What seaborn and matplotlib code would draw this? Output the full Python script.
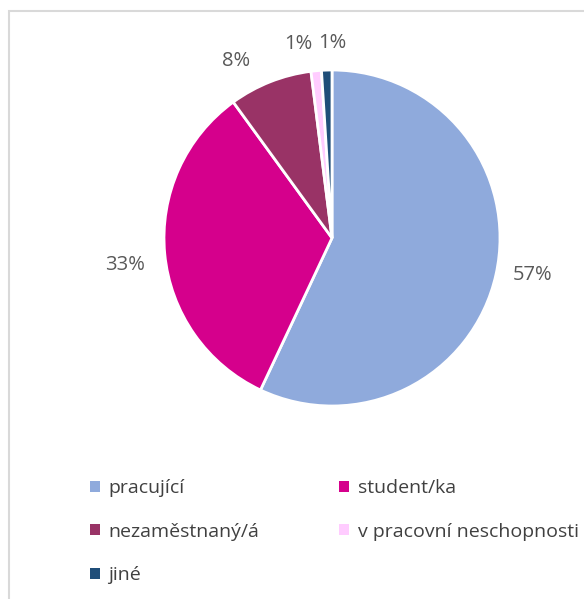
import numpy as np
import matplotlib
matplotlib.use("Agg")
import matplotlib.pyplot as plt
import matplotlib.patches as mpatches
import seaborn as sns

# -------------------------
# DATA
# -------------------------
categories = ["pracující", "student/ka", "nezaměstnaný/á", "v pracovní neschopnosti", "jiné"]
shares = [57, 33, 8, 1, 1]
colors = ["#8FAADC", "#D5008C", "#993366", "#FFCCFF", "#1F4E79"]

sns.set_theme(style="white")
plt.rcParams["font.family"] = ["Open Sans", "DejaVu Sans"]

fig = plt.figure(figsize=(5.84, 5.99), dpi=100)
W, H = 584, 599

# light gray frame like the Excel chart area (cut off at right/bottom)
fig.patches.append(mpatches.Rectangle((9 / W, -0.05), 1.1, 1 - 11 / H + 0.05,
                                      transform=fig.transFigure, fill=False,
                                      edgecolor="#D9D9D9", linewidth=1.5))

# pie axes: centre ~ (332, 238), radius ~ 168 px
cx, cy, r = 332, 238, 168
ax = fig.add_axes([(cx - r) / W, (H - cy - r) / H, 2 * r / W, 2 * r / H])

wedges, texts, autotexts = ax.pie(
    shares, colors=colors, startangle=90, counterclock=False,
    autopct=lambda p: f"{p:.0f}%", pctdistance=1.2, radius=1.0,
    wedgeprops=dict(edgecolor="white", linewidth=2),
    textprops=dict(color="#595959", fontsize=14.5),
)
ax.set_xlim(-1, 1)
ax.set_ylim(-1, 1)
ax.set_aspect("equal")

# nudge labels the way Excel's "best fit" places them
nudges = [(0.02, 0.04), (-0.04, -0.05), (-0.13, -0.06), (-0.09, -0.04), (0.04, -0.04)]
for t, (dx, dy) in zip(autotexts, nudges):
    x, y = t.get_position()
    t.set_position((x + dx, y + dy))

# legend laid out row by row (matplotlib fills columns first)
order = [0, 2, 4, 1, 3]
handles = [mpatches.Patch(facecolor=colors[i], edgecolor="none") for i in order]
labels = [categories[i] for i in order]
fig.legend(handles, labels, loc="upper left", bbox_to_anchor=(90 / W, 1 - 479 / H),
           ncol=2, frameon=False, fontsize=14, handlelength=0.5, handleheight=0.5,
           handletextpad=0.45, labelspacing=1.32, columnspacing=4.1,
           borderpad=0, borderaxespad=0, labelcolor="#404040")

fig.savefig("out.png", dpi=100)
